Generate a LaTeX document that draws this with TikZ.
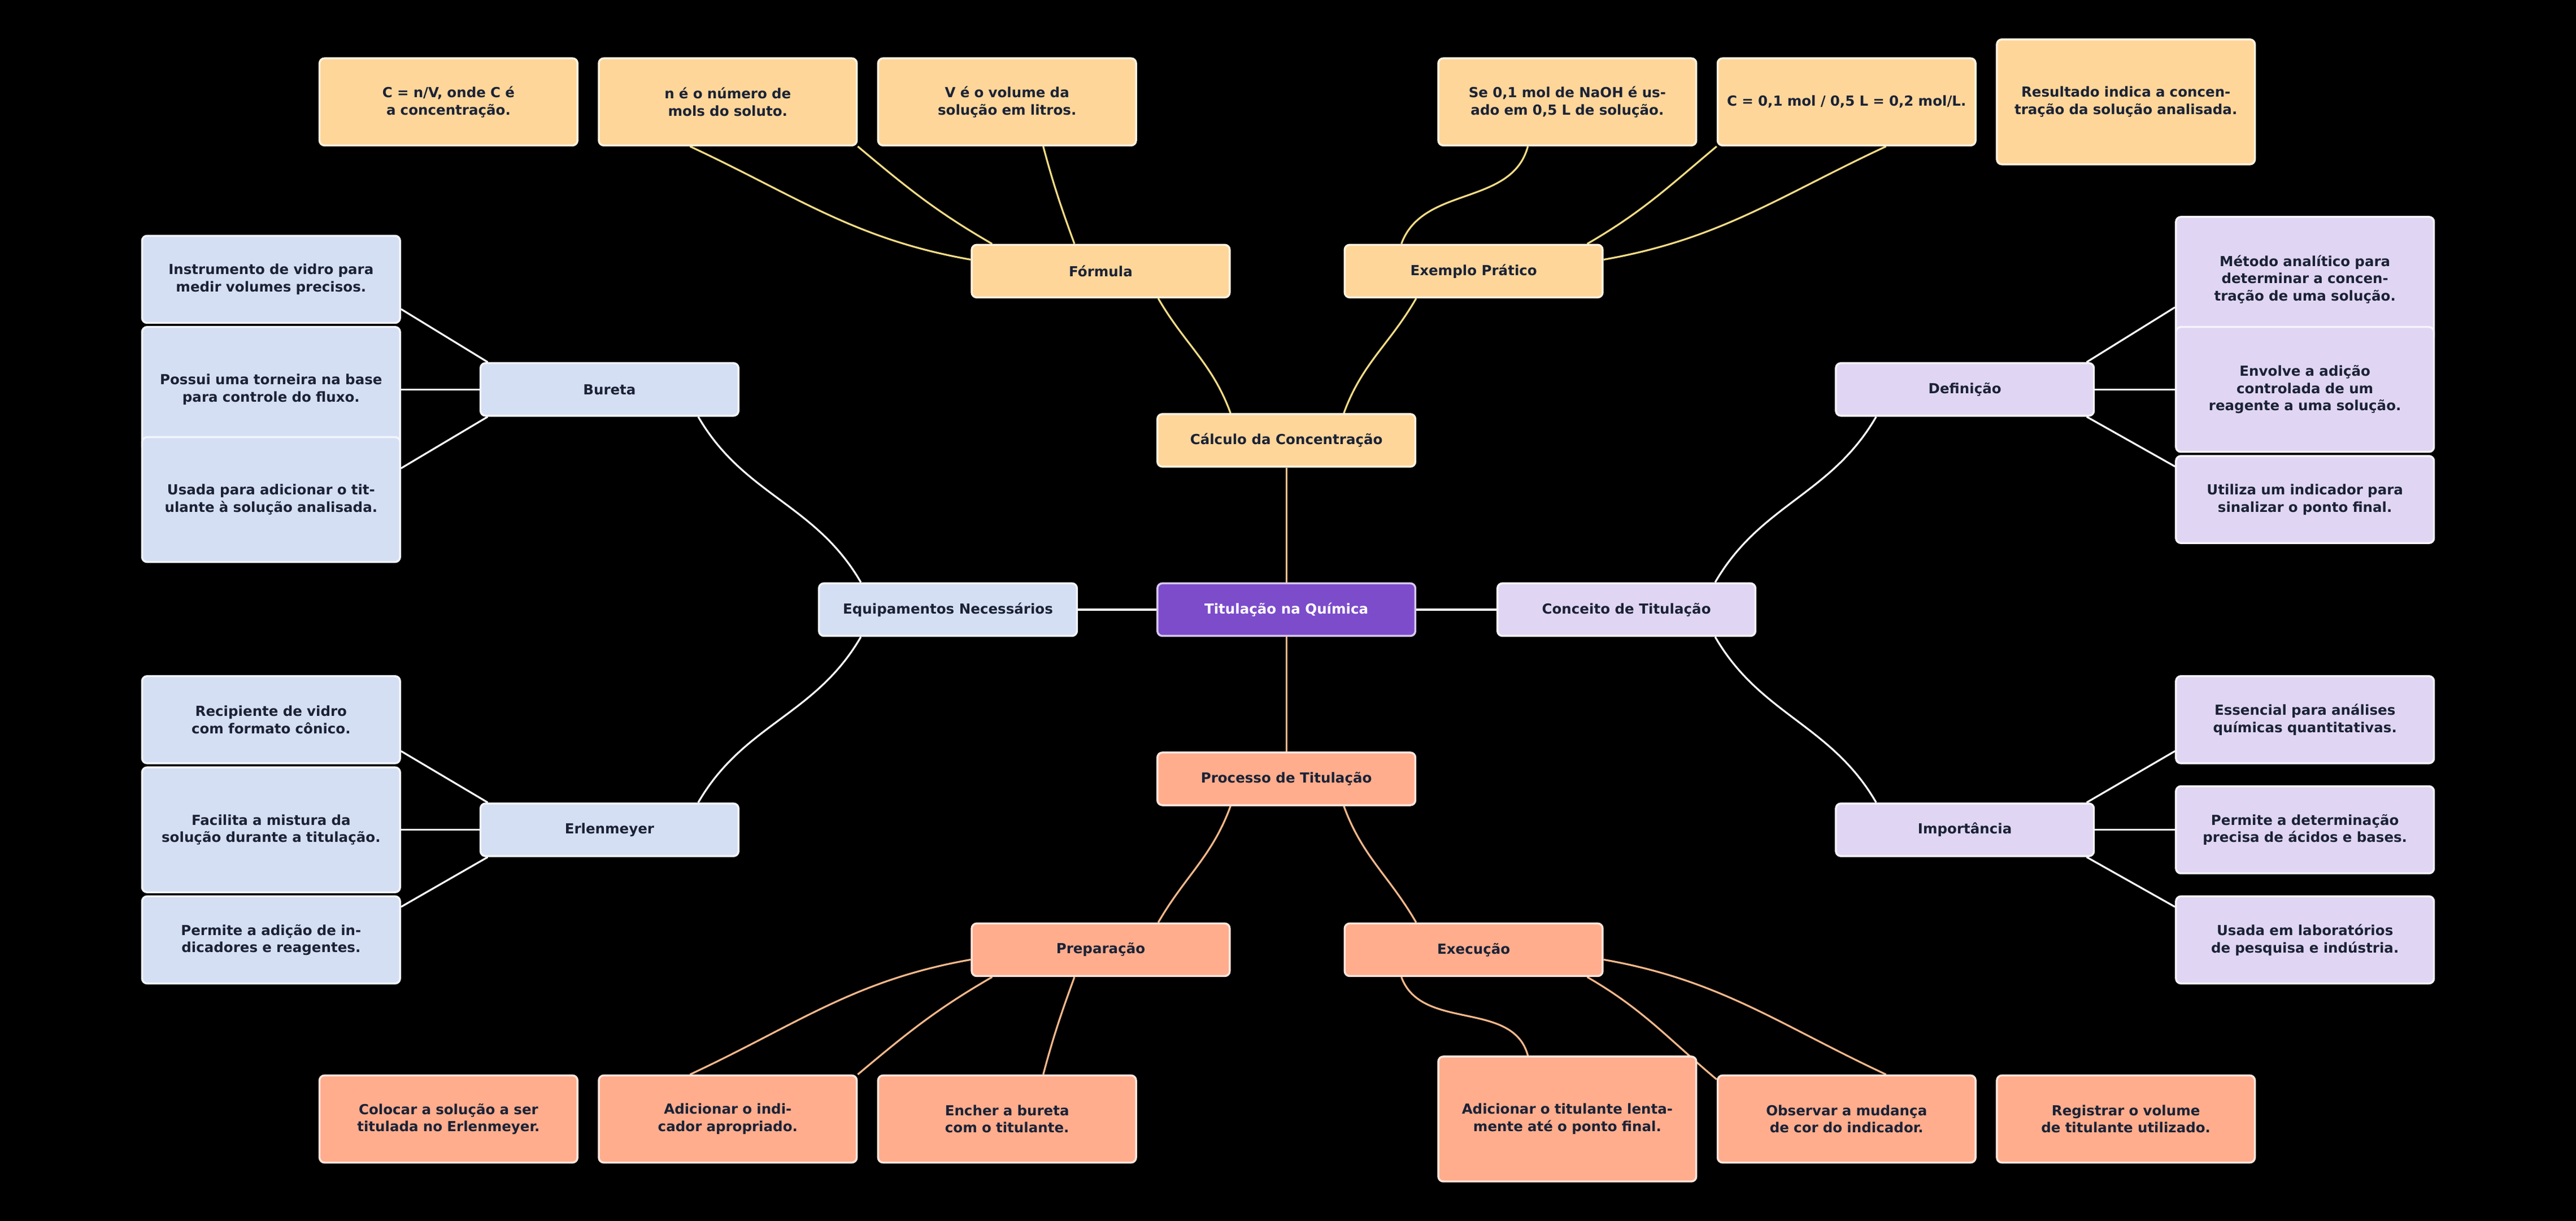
\documentclass[tikz,border=0pt]{standalone}
\usepackage{fontspec}
\setmainfont{DejaVu Sans}
\usepackage{tikz}
\usetikzlibrary{calc, backgrounds}
\definecolor{ylw}{HTML}{FFD699}
\definecolor{ylwln}{HTML}{F2DC84}
\definecolor{blu}{HTML}{D5DFF3}
\definecolor{pur}{HTML}{E0D6F3}
\definecolor{sal}{HTML}{FFAD8D}
\definecolor{salln}{HTML}{F4B88A}
\definecolor{root}{HTML}{7C4CCB}
\definecolor{ink}{HTML}{1B2236}

\begin{document}
\begin{tikzpicture}[x=1mm, y=-1mm,
    box/.style={draw=white!70!#1, line width=1.2mm, fill=#1, rounded corners=3mm,
        minimum width=157mm, minimum height=32mm, inner sep=0pt,
        font=\fontsize{24}{30}\selectfont\bfseries, text=ink, align=center},
    leaf/.style={box=#1, minimum height=53mm, text width=148mm},
    tall/.style={leaf=#1, minimum height=76mm},
    ln/.style={line width=1.1mm, draw=#1},
]
\useasboundingbox (0,0) rectangle (1568,743);

% ---- main nodes ----
\node[box=root, text=white] (tit) at (783,371) {Titulação na Química};
\node[box=ylw] (calc) at (783,268) {Cálculo da Concentração};
\node[box=sal] (proc) at (783,474) {Processo de Titulação};
\node[box=blu] (equip) at (577,371) {Equipamentos Necessários};
\node[box=pur] (conc) at (990,371) {Conceito de Titulação};

% ---- second level ----
\node[box=ylw] (form) at (670,165) {Fórmula};
\node[box=ylw] (exem) at (897,165) {Exemplo Prático};
\node[box=blu] (bur) at (371,237) {Bureta};
\node[box=blu] (erl) at (371,505) {Erlenmeyer};
\node[box=pur] (defi) at (1196,237) {Definição};
\node[box=pur] (impo) at (1196,505) {Importância};
\node[box=sal] (prep) at (670,578) {Preparação};
\node[box=sal] (exec) at (897,578) {Execução};

% ---- leaves: Fórmula / Exemplo ----
\node[leaf=ylw] (fc) at (273,62) {C = n/V, onde C é a concentração.};
\node[leaf=ylw] (fn) at (443,62) {n é o número de mols do soluto.};
\node[leaf=ylw] (fv) at (613,62) {V é o volume da solução em litros.};
\node[leaf=ylw] (es) at (954,62) {Se 0,1 mol de NaOH é usado em 0,5 L de solução.};
\node[leaf=ylw] (ec) at (1124,62) {C = 0,1 mol / 0,5 L = 0,2 mol/L.};
\node[tall=ylw] (er) at (1294,62) {Resultado indica a concentração da solução analisada.};

% ---- leaves: Bureta / Erlenmeyer ----
\node[leaf=blu] (bi) at (165,170) {Instrumento de vidro para medir volumes precisos.};
\node[tall=blu] (bp) at (165,237) {Possui uma torneira na base para controle do fluxo.};
\node[tall=blu] (bu) at (165,304) {Usada para adicionar o titulante à solução analisada.};
\node[leaf=blu] (lr) at (165,438) {Recipiente de vidro com formato cônico.};
\node[tall=blu] (lf) at (165,505) {Facilita a mistura da solução durante a titulação.};
\node[leaf=blu] (lp) at (165,572) {Permite a adição de indicadores e reagentes.};

% ---- leaves: Definição / Importância ----
\node[tall=pur] (dm) at (1403,170) {Método analítico para determinar a concentração de uma solução.};
\node[tall=pur] (de) at (1403,237) {Envolve a adição controlada de um reagente a uma solução.};
\node[leaf=pur] (du) at (1403,304) {Utiliza um indicador para sinalizar o ponto final.};
\node[leaf=pur] (ie) at (1403,438) {Essencial para análises químicas quantitativas.};
\node[leaf=pur] (ip) at (1403,505) {Permite a determinação precisa de ácidos e bases.};
\node[leaf=pur] (iu) at (1403,572) {Usada em laboratórios de pesquisa e indústria.};

% ---- leaves: Preparação / Execução ----
\node[leaf=sal] (pc) at (273,681) {Colocar a solução a ser titulada no Erlenmeyer.};
\node[leaf=sal] (pa) at (443,681) {Adicionar o indicador apropriado.};
\node[leaf=sal] (pe) at (613,681) {Encher a bureta com o titulante.};
\node[tall=sal] (xa) at (954,681) {Adicionar o titulante lentamente até o ponto final.};
\node[leaf=sal] (xo) at (1124,681) {Observar a mudança de cor do indicador.};
\node[leaf=sal] (xr) at (1294,681) {Registrar o volume de titulante utilizado.};

% ---- connectors ----
\begin{scope}[on background layer]
\fill[black] (0,0) rectangle (1568,743);
\draw[ln=salln!60!ylw] (tit.north) -- (calc.south);
\draw[ln=salln] (tit.south) -- (proc.north);
\draw[ln=white] (tit.west) -- (equip.east);
\draw[ln=white] (tit.east) -- (conc.west);

\draw[ln=ylwln] ($(form.south)+(35,0)$) to[out=-60,in=110] ($(calc.north)+(-34,0)$);
\draw[ln=ylwln] ($(exem.south)+(-35,0)$) to[out=-120,in=70] ($(calc.north)+(35,0)$);
\draw[ln=salln] ($(proc.south)+(-34,0)$) to[out=-110,in=60] ($(prep.north)+(35,0)$);
\draw[ln=salln] ($(proc.south)+(35,0)$) to[out=-70,in=120] ($(exec.north)+(-35,0)$);
\draw[ln=white] ($(equip.north)+(-53,0)$) to[out=120,in=-60] ($(bur.south)+(54,0)$);
\draw[ln=white] ($(equip.south)+(-53,0)$) to[out=-120,in=60] ($(erl.north)+(54,0)$);
\draw[ln=white] ($(conc.north)+(54,0)$) to[out=60,in=-120] ($(defi.south)+(-54,0)$);
\draw[ln=white] ($(conc.south)+(54,0)$) to[out=-60,in=120] ($(impo.north)+(-54,0)$);

\draw[ln=ylwln] ($(form.west)+(0,-7)$) to[out=170,in=-25] ($(fn.south)+(-23,0)$);
\draw[ln=ylwln] ($(form.north west)+(13,0)$) to[out=150,in=-40] (fn.south east);
\draw[ln=ylwln] ($(form.north)+(-16,0)$) to[out=110,in=-75] ($(fv.south)+(22,0)$);
\draw[ln=ylwln] ($(exem.north)+(-44,0)$) to[out=70,in=-105] ($(es.south)+(-24,0)$);
\draw[ln=ylwln] ($(exem.north east)+(-10,0)$) to[out=30,in=-140] (ec.south west);
\draw[ln=ylwln] ($(exem.east)+(0,-7)$) to[out=10,in=-155] ($(ec.south)+(24,0)$);

\draw[ln=salln] ($(prep.west)+(0,6)$) to[out=-170,in=25] ($(pa.north)+(-23,0)$);
\draw[ln=salln] ($(prep.south west)+(13,0)$) to[out=-150,in=40] (pa.north east);
\draw[ln=salln] ($(prep.south)+(-16,0)$) to[out=-110,in=75] ($(pe.north)+(22,0)$);
\draw[ln=salln] ($(exec.south)+(-44,0)$) to[out=-70,in=105] ($(xa.north)+(-24,0)$);
\draw[ln=salln] ($(exec.south east)+(-10,0)$) to[out=-30,in=140] ($(xo.north west)+(0,3)$);
\draw[ln=salln] ($(exec.east)+(0,6)$) to[out=-10,in=155] ($(xo.north)+(24,0)$);

\draw[ln=white] ($(bur.north west)+(5,0)$) -- ($(bi.south east)+(0,-9)$);
\draw[ln=white] (bur.west) -- (bp.east);
\draw[ln=white] ($(bur.south west)+(5,0)$) -- ($(bu.east)+(0,-19)$);
\draw[ln=white] ($(erl.north west)+(5,0)$) -- ($(lr.south east)+(0,-8)$);
\draw[ln=white] (erl.west) -- (lf.east);
\draw[ln=white] ($(erl.south west)+(5,0)$) -- ($(lp.north east)+(0,7)$);
\draw[ln=white] ($(defi.north east)+(-5,0)$) -- ($(dm.west)+(0,17)$);
\draw[ln=white] (defi.east) -- (de.west);
\draw[ln=white] ($(defi.south east)+(-5,0)$) -- ($(du.north west)+(0,7)$);
\draw[ln=white] ($(impo.north east)+(-5,0)$) -- ($(ie.south west)+(0,-8)$);
\draw[ln=white] (impo.east) -- (ip.west);
\draw[ln=white] ($(impo.south east)+(-5,0)$) -- ($(iu.north west)+(0,7)$);
\end{scope}
\end{tikzpicture}
\end{document}
